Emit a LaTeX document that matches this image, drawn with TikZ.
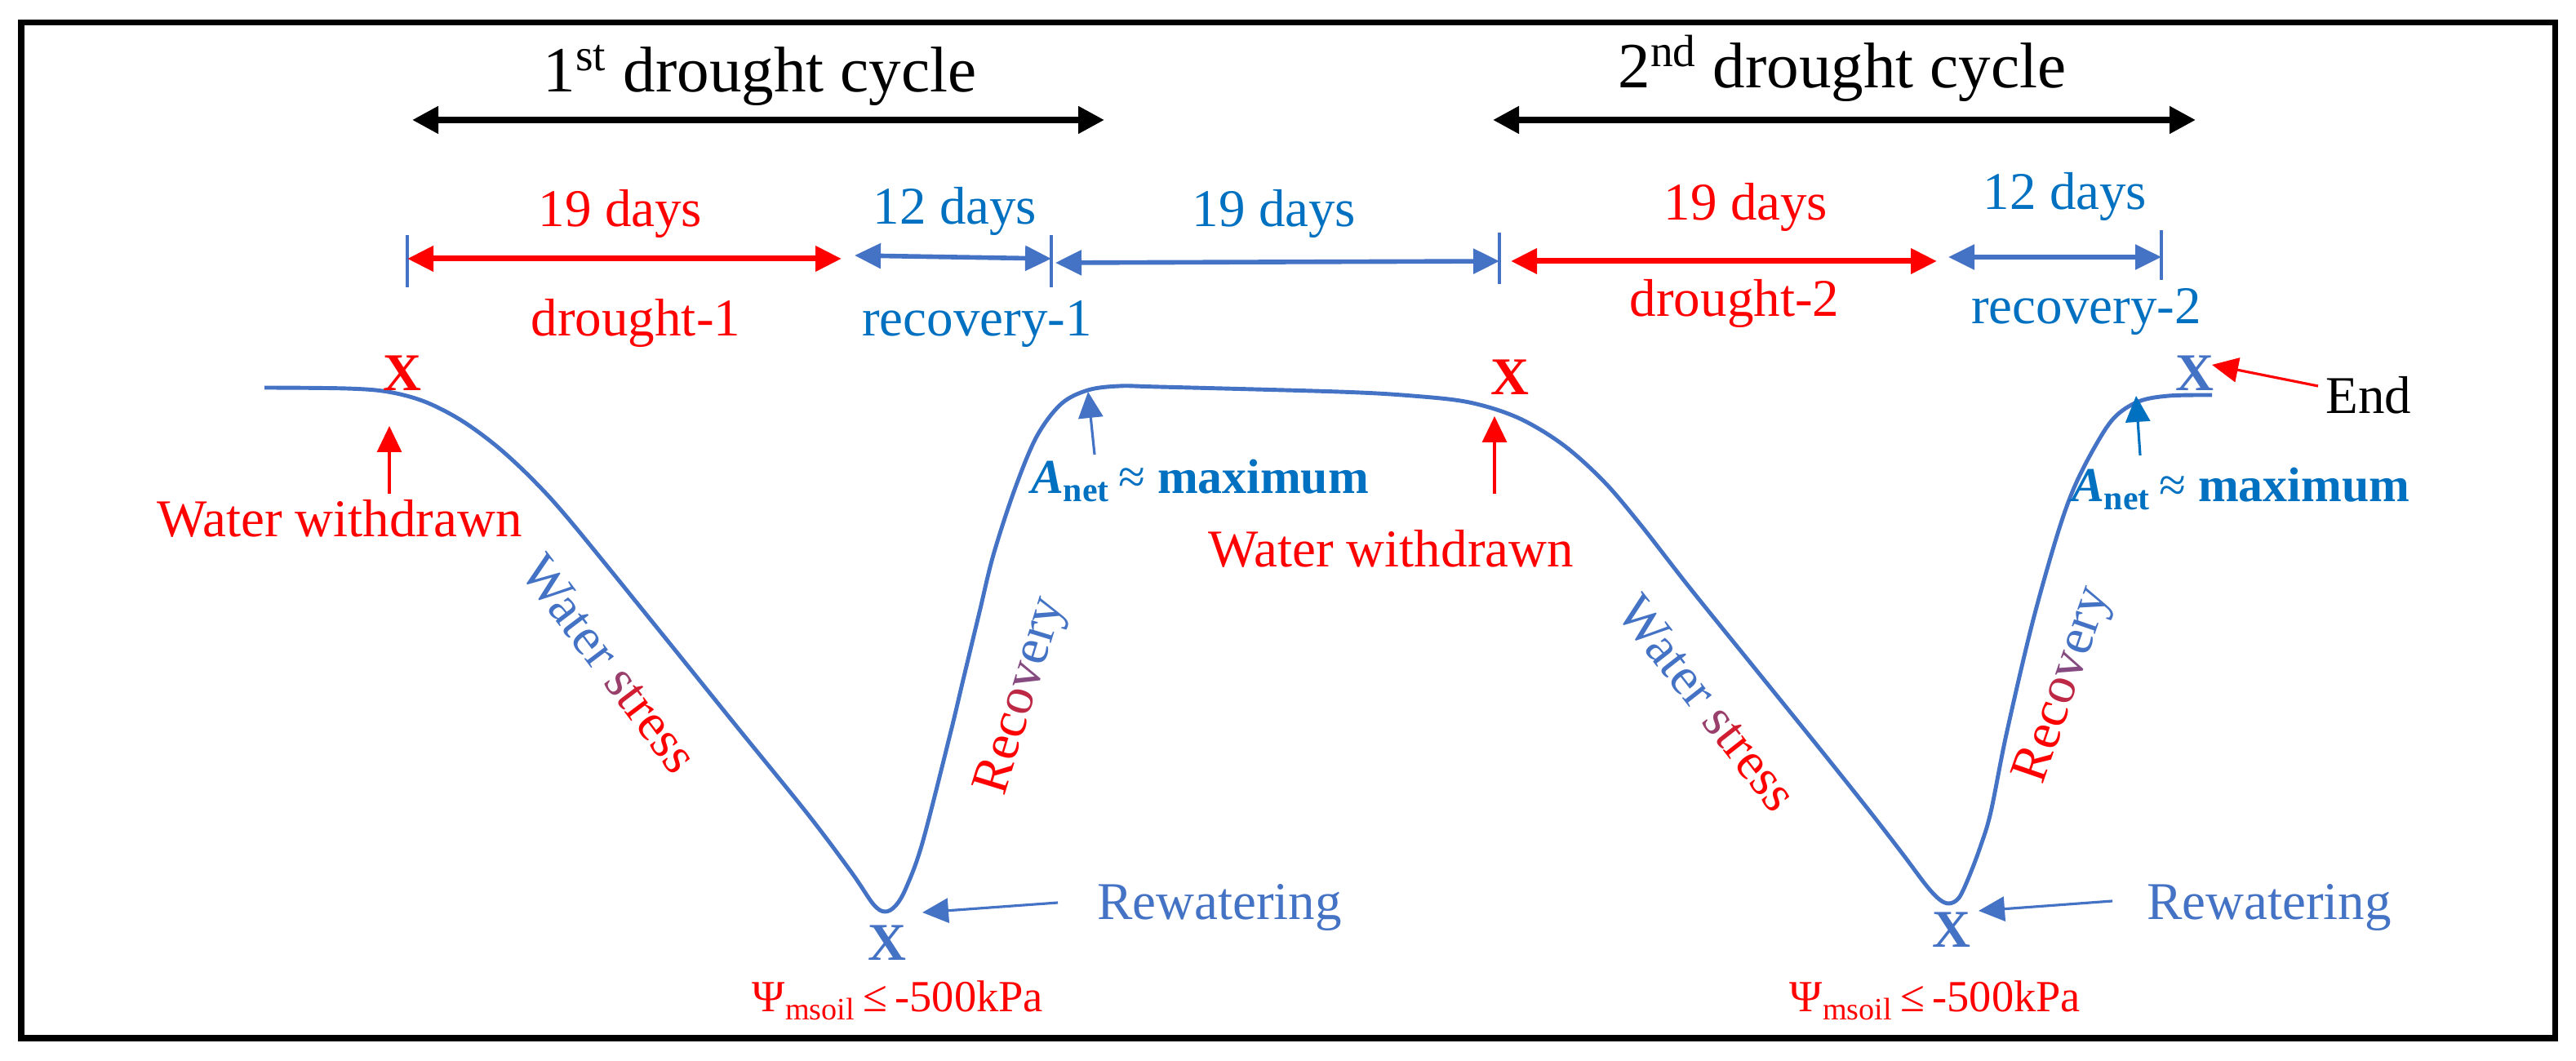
\documentclass[tikz,border=0pt]{standalone}
\usepackage{fontspec}
\setmainfont{Liberation Serif}
\usetikzlibrary{arrows.meta}
\definecolor{dred}{HTML}{FF0000}
\definecolor{cblue}{HTML}{4472C4}
\definecolor{tblue}{HTML}{0070C0}
\tikzset{
  lbl/.style={inner sep=0pt, anchor=base, font=\fontsize{18.5}{22}\selectfont},
  ttl/.style={inner sep=0pt, anchor=base, font=\fontsize{22.5}{26}\selectfont},
  rot/.style={inner sep=0pt, font=\fontsize{18.5}{22}\selectfont},
  xmark/.style={inner sep=0pt, font=\fontsize{18.5}{20}\selectfont\bfseries},
  ann/.style={-{Triangle[length=0.32cm,width=0.3cm]}, line width=0.9pt},
  span/.style={{Triangle[length=0.32cm,width=0.3cm]}-{Triangle[length=0.32cm,width=0.3cm]}, line width=2pt},
  cyc/.style={{Triangle[length=0.32cm,width=0.32cm]}-{Triangle[length=0.32cm,width=0.32cm]}, line width=2.2pt},
  daytick/.style={cblue, line width=1.2pt},
}

\begin{document}
\begin{tikzpicture}
    \useasboundingbox (0,0) rectangle (31.56,13);
    \draw[line width=2pt] (0.26,0.28) rectangle (31.30,12.72);
    % drought cycles
    \node[ttl] (cyc1) at (9.31,11.87) {1\textsuperscript{st} drought cycle};
    \node[ttl] (cyc2) at (22.57,11.92) {2\textsuperscript{nd} drought cycle};
    \coordinate (c1a) at (5.05,11.53); \coordinate (c1b) at (13.53,11.53);
    \coordinate (c2a) at (18.29,11.53); \coordinate (c2b) at (26.90,11.53);
    \draw[cyc] (c1a) -- (c1b);
    \draw[cyc] (c2a) -- (c2b);
    % day spans
    \coordinate (t1) at (4.99,9.83);
    \coordinate (t2) at (12.88,9.83);
    \coordinate (t3) at (18.37,9.80);
    \coordinate (t4) at (26.48,9.85);
    \coordinate (d1) at (10.31,9.83);
    \coordinate (r1) at (10.47,9.87);
    \coordinate (m1) at (12.93,9.78);
    \coordinate (d2a) at (18.51,9.80); \coordinate (d2b) at (23.73,9.80);
    \coordinate (r2) at (23.87,9.85);
    \draw[daytick] ([yshift=0.29cm]t1) -- ([yshift=-0.35cm]t1);
    \draw[daytick] ([yshift=0.29cm]t2) -- ([yshift=-0.35cm]t2);
    \draw[daytick] ([yshift=0.35cm]t3) -- ([yshift=-0.28cm]t3);
    \draw[daytick] ([yshift=0.33cm]t4) -- ([yshift=-0.28cm]t4);
    \draw[span, dred] (t1) -- (d1);
    \draw[span, cblue, line width=1.6pt] (r1) -- (t2);
    \draw[span, cblue, line width=1.6pt] (m1) -- (t3);
    \draw[span, dred] (d2a) -- (d2b);
    \draw[span, cblue, line width=1.6pt] (r2) -- (t4);
    \node[lbl, dred] (dd1) at (7.60,10.22) {19 days};
    \node[lbl, tblue] (rd1) at (11.70,10.25) {12 days};
    \node[lbl, dred] (dn1) at (7.79,8.88) {drought-1};
    \node[lbl, tblue] (rn1) at (11.97,8.88) {recovery-1};
    \node[lbl, tblue] (md) at (15.61,10.22) {19 days};
    \node[lbl, dred] (dd2) at (21.39,10.30) {19 days};
    \node[lbl, tblue] (rd2) at (25.30,10.43) {12 days};
    \node[lbl, dred] (dn2) at (21.25,9.12) {drought-2};
    \node[lbl, tblue] (rn2) at (25.56,9.03) {recovery-2};
    % response curve
    \draw[cblue, line width=1.4pt] plot[smooth, tension=0.55] coordinates {
        (3.24,8.25) (4.24,8.24) (4.75,8.20) (5.20,8.08) (5.65,7.85) (6.10,7.52) (6.55,7.10)
        (7.00,6.60) (8.00,5.37) (9.00,4.13) (9.90,3.02) (10.44,2.30) (10.70,1.92) (10.84,1.83)
        (10.97,1.90) (11.10,2.12) (11.30,2.67) (11.64,4.00) (11.80,4.67) (12.00,5.50) (12.17,6.20)
        (12.43,7.00) (12.70,7.65) (13.00,8.05) (13.33,8.22) (13.72,8.27) (14.20,8.26) (16.40,8.20)
        (17.30,8.15) (18.00,8.07) (18.60,7.88) (19.15,7.55) (19.65,7.10) (20.10,6.57) (20.70,5.80)
        (21.50,4.81) (22.30,3.82) (22.89,3.08) (23.30,2.55) (23.60,2.15) (23.76,1.98) (23.88,1.93)
        (24.00,2.00) (24.12,2.25) (24.26,2.62) (24.39,3.05) (24.58,4.00) (24.89,5.33) (25.19,6.40)
        (25.40,7.00) (25.65,7.50) (25.90,7.88) (26.20,8.08) (26.57,8.15) (27.10,8.16)};
    \node[xmark, dred] (x1) at (4.93,8.43) {X};
    \node[xmark, cblue] (x2) at (10.87,1.45) {X};
    \node[xmark, dred] (x3) at (18.50,8.38) {X};
    \node[xmark, cblue] (x4) at (23.91,1.61) {X};
    \node[xmark, cblue] (x5) at (26.89,8.43) {X};
    % phases
    \node[rot, rotate=-53] (ws1) at (7.47,4.86) {\textcolor{cblue}{Water }\textcolor{cblue!55!dred}{s}\textcolor{cblue!25!dred}{t}\textcolor{dred}{ress}};
    \node[rot, rotate=-52] (ws2) at (20.92,4.38) {\textcolor{cblue}{Water }\textcolor{cblue!55!dred}{s}\textcolor{cblue!25!dred}{t}\textcolor{dred}{ress}};
    \node[rot, rotate=73] (rc1) at (12.53,4.47) {\textcolor{dred}{Rec}\textcolor{dred!65!cblue}{o}\textcolor{dred!35!cblue}{v}\textcolor{cblue}{ery}};
    \node[rot, rotate=71] (rc2) at (25.30,4.60) {\textcolor{dred}{Rec}\textcolor{dred!65!cblue}{o}\textcolor{dred!35!cblue}{v}\textcolor{cblue}{ery}};
    % annotations
    \node[lbl, dred] (ww1) at (4.16,6.42) {Water withdrawn};
    \node[lbl, dred] (ww2) at (17.04,6.05) {Water withdrawn};
    \coordinate (ww1a) at (4.77,6.95); \coordinate (ww1b) at (4.77,7.78);
    \coordinate (ww2a) at (18.31,6.95); \coordinate (ww2b) at (18.31,7.90);
    \draw[ann, dred] (ww1a) -- (ww1b);
    \draw[ann, dred] (ww2a) -- (ww2b);
    \node[lbl, tblue, font=\fontsize{17}{20}\selectfont\bfseries] (an1) at (14.70,6.95) {{\itshape A}\textsubscript{net}\,{\mdseries≈} maximum};
    \node[lbl, tblue, font=\fontsize{17}{20}\selectfont\bfseries] (an2) at (27.45,6.85) {{\itshape A}\textsubscript{net}\,{\mdseries≈} maximum};
    \coordinate (an1a) at (13.41,7.43); \coordinate (an1b) at (13.33,8.20);
    \coordinate (an2a) at (26.22,7.42); \coordinate (an2b) at (26.17,8.15);
    \draw[ann, cblue] (an1a) -- (an1b);
    \draw[ann, tblue] (an2a) -- (an2b);
    \node[lbl] (endl) at (29.02,7.93) {End};
    \coordinate (ena) at (28.40,8.27); \coordinate (enb) at (27.10,8.53);
    \draw[ann, dred] (ena) -- (enb);
    \node[lbl, cblue] (rw1) at (14.94,1.73) {Rewatering};
    \node[lbl, cblue] (rw2) at (27.80,1.73) {Rewatering};
    \coordinate (rw1a) at (12.96,1.94); \coordinate (rw1b) at (11.30,1.82);
    \coordinate (rw2a) at (25.88,1.96); \coordinate (rw2b) at (24.24,1.84);
    \draw[ann, cblue] (rw1a) -- (rw1b);
    \draw[ann, cblue] (rw2a) -- (rw2b);
    \node[lbl, dred, font=\fontsize{15.5}{18}\selectfont] (psi1) at (11.00,0.60) {Ψ\textsubscript{msoil}\,≤\,-500kPa};
    \node[lbl, dred, font=\fontsize{15.5}{18}\selectfont] (psi2) at (23.71,0.60) {Ψ\textsubscript{msoil}\,≤\,-500kPa};
\end{tikzpicture}
\end{document}
